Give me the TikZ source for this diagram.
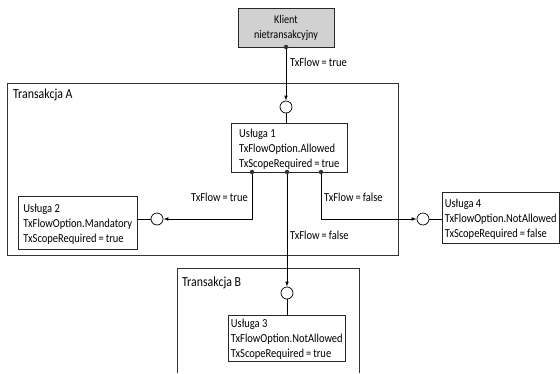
\documentclass[tikz,border=0pt]{standalone}
\usepackage{fontspec}
\setmainfont[FakeStretch=0.86]{Carlito}
\usetikzlibrary{arrows.meta}
\newcommand{\eqs}{\,=\,}
\begin{document}
\begin{tikzpicture}[x=1pt,y=-1pt,
  every node/.style={font=\fontsize{12.2}{15}\selectfont},
  svc/.style={draw=black!85,line width=0.7pt,fill=white,anchor=north west,align=left,inner sep=0pt,inner xsep=2.5pt,text depth=0pt},
  frame/.style={draw=black!80,line width=0.9pt},
  port/.style={draw=black,line width=0.7pt,fill=white,circle,minimum size=12pt,inner sep=0pt},
  dotp/.style={fill=black!80,circle,inner sep=0pt,minimum size=4.5pt},
  conn/.style={draw=black,line width=0.7pt},
  arr/.style={conn,-{Latex[length=5pt,width=3.6pt]}},
  lbl/.style={inner sep=0pt},
  ttl/.style={inner sep=0pt,anchor=west,font=\fontsize{13.8}{15}\selectfont}]
\useasboundingbox (0,0) rectangle (560,373);
% frames
\draw[frame] (7,83) rectangle (398,255);
\node[ttl] (ta) at (13,95) {Transakcja A};
\draw[frame] (177,373) -- (177,268) -- (359,268) -- (359,373);
\node[ttl] (tb) at (182,283) {Transakcja B};
% client
\node[draw=black!85,line width=0.7pt,fill=black!18,minimum width=96pt,minimum height=39pt,align=center,inner sep=0pt,font=\fontsize{11.8}{15}\selectfont] (kl) at (286,27.5) {Klient\\nietransakcyjny};
% services
\node[svc,minimum width=116pt,minimum height=49pt] (u1) at (231,123) {Usługa 1\\TxFlowOption.Allowed\\TxScopeRequired\eqs true};
\node[svc,minimum width=119pt,minimum height=53pt] (u2) at (18,196) {Usługa 2\\TxFlowOption.Mandatory\\TxScopeRequired\eqs true};
\node[svc,minimum width=116pt,minimum height=51pt] (u4) at (442,192) {Usługa 4\\TxFlowOption.NotAllowed\\TxScopeRequired\eqs false};
\node[svc,minimum width=117pt,minimum height=46pt] (u3) at (228,315) {Usługa 3\\TxFlowOption.NotAllowed\\TxScopeRequired\eqs true};
% ports
\node[port] (ca) at (286,107) {};
\node[port] (c2) at (157,219) {};
\node[port] (c4) at (423,219) {};
\node[port] (cb) at (287,293) {};
% dots
\coordinate (dk) at (286,47);
\coordinate (d1) at (252,172);
\coordinate (d2) at (287,172);
\coordinate (d3) at (321,172);
% connectors
\draw[arr] (dk) -- (ca);
\draw[conn] (ca) -- (ca |- u1.north);
\draw[arr] (d1) |- (c2);
\draw[conn] (c2) -- (c2 -| u2.east);
\draw[arr] (d3) |- (c4);
\draw[conn] (c4) -- (c4 -| u4.west);
\draw[arr] (d2) -- (cb);
\draw[conn] (cb) -- (cb |- u3.north);
\foreach \p in {dk,d1,d2,d3} \node[dotp] at (\p) {};
% labels
\node[lbl,anchor=west] (l0) at (290,62) {TxFlow\eqs true};
\node[lbl,anchor=east] (l1) at (248,197) {TxFlow\eqs true};
\node[lbl,anchor=west] (l3) at (324,197) {TxFlow\eqs false};
\node[lbl,anchor=west] (l2) at (290,235) {TxFlow\eqs false};
\end{tikzpicture}
\end{document}
